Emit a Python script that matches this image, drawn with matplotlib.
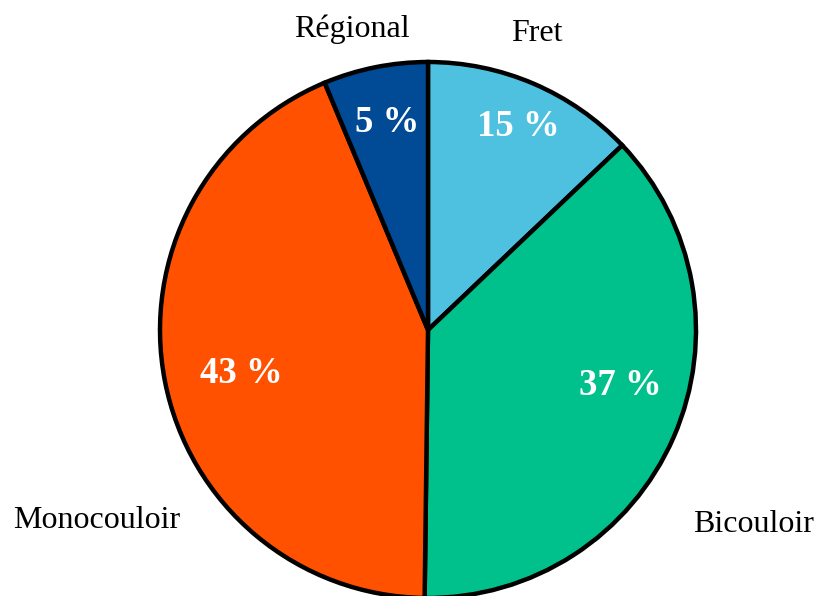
import numpy as np
import matplotlib
matplotlib.use("Agg")
import matplotlib.pyplot as plt

# parts measured from the wedge angles, labels as printed on the chart
categories = ["Fret", "Bicouloir", "Monocouloir", "Régional"]
shares = [12.9, 37.3, 43.5, 6.3]
pct_labels = ["15 %", "37 %", "43 %", "5 %"]
colors = ["#4FC1E0", "#00C18C", "#FF5100", "#004A96"]

# where texts sit: (angle in degrees, distance in radii)
name_pos = [(70, 1.19), (-30.4, 1.41), (209.5, 1.42), (104, 1.17)]
pct_pos = [(66.4, 0.84), (-15.2, 0.745), (192.1, 0.713), (101, 0.80)]


def main():
    plt.rcParams["font.family"] = ["Liberation Serif", "DejaVu Serif"]
    fig = plt.figure(figsize=(8.17, 5.96), dpi=100)
    ax = fig.add_axes([0, 0, 1, 1])
    cx, cy, r = 428, 596 - 330, 268
    ty = cy - 3  # text glyphs sit a little lower than their box centre
    ax.pie(shares, colors=colors, startangle=90, counterclock=False,
           center=(cx, cy), radius=r,
           wedgeprops=dict(edgecolor="black", linewidth=3.2))
    for lab, (ang, d) in zip(pct_labels, pct_pos):
        a = np.deg2rad(ang)
        ax.text(cx + d * r * np.cos(a), ty + d * r * np.sin(a), lab,
                color="white", fontsize=26.5, fontweight="bold",
                ha="center", va="center")
    for name, (ang, d) in zip(categories, name_pos):
        a = np.deg2rad(ang)
        ax.text(cx + d * r * np.cos(a), ty + d * r * np.sin(a), name,
                color="black", fontsize=23, ha="center", va="center")
    ax.set_xlim(0, 817)
    ax.set_ylim(0, 596)
    ax.set_aspect("equal")
    ax.axis("off")
    fig.savefig("out.png", dpi=100)


if __name__ == "__main__":
    main()
